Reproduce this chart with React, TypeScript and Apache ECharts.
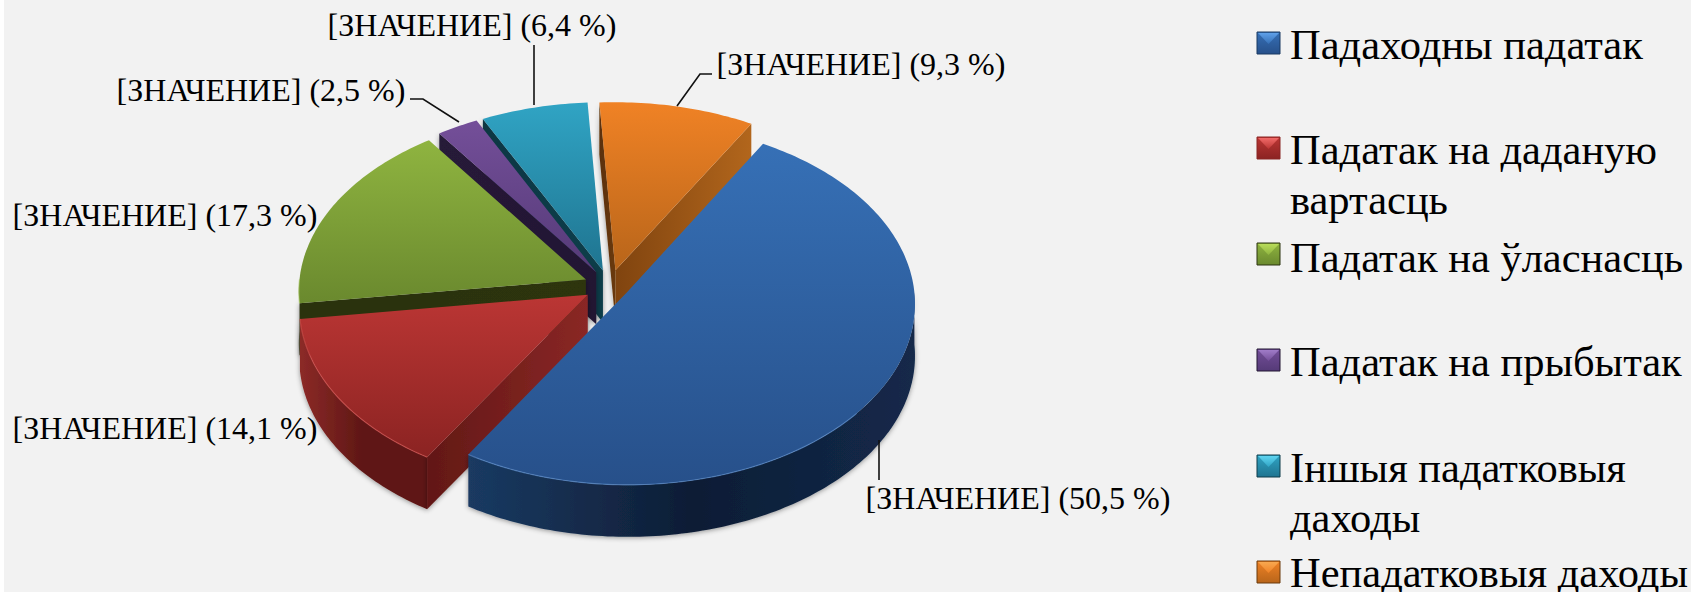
import React, { useEffect, useRef } from "react";
import * as echarts from "echarts";

const categories = ["Падаходны падатак", "Падатак на даданую вартасць", "Падатак на ўласнасць", "Падатак на прыбытак", "Іншыя падатковыя даходы", "Непадатковыя даходы"];
const legendNames = ["Падаходны падатак", "Падатак на даданую\nвартасць", "Падатак на ўласнасць", "Падатак на прыбытак", "Іншыя падатковыя\nдаходы", "Непадатковыя даходы"];
const values = [50.5, 14.1, 17.3, 2.5, 6.4, 9.3];
const percentText = ["50,5", "14,1", "17,3", "2,5", "6,4", "9,3"];

const topColors = [["#3670b6", "#27508a"], ["#bb3634", "#8b2322"], ["#8fb440", "#6a892e"], ["#744f99", "#553a78"], ["#30a4c4", "#1f7490"], ["#f08225", "#b8651a"]];
const wallOuter = [["#1a3a62", "#0e1d35", "#13294a"], ["#8c2a27", "#5e1715", "#5e1715"], ["#3a4a18", "#3a4a18", "#3a4a18"], ["#2a1c3e", "#2a1c3e", "#2a1c3e"], ["#0f3b48", "#0f3b48", "#0f3b48"], ["#a9601b", "#a9601b", "#a9601b"]];
const wallStart = [["#1a3a62", "#1a3a62"], ["#621816", "#8a2725"], ["#2b3210", "#2d3410"], ["#261a38", "#231733"], ["#0e3743", "#0f3d4a"], ["#5a2f08", "#6a3a0c"]];
const wallEnd = [["#1a3a62", "#1a3a62"], ["#5e1715", "#5e1715"], ["#2b3210", "#2b3210"], ["#261a38", "#261a38"], ["#0f3b48", "#0f3b48"], ["#80440f", "#b2661c"]];
const rimColors = ["#5b8fd0", "#d95452", "#a5c85a", "#8a68ae", "#4fbcd8", "#f59a48"];
const iconLight = ["#5fa0e8", "#f06a68", "#b8dc5a", "#a07cc8", "#5fd4f0", "#f8a850"];
const drawOrder = [4, 3, 5, 2, 1, 0];
const explode = [0.07, 0.09, 0.09, 0.09, 0.09, 0.09];

const labelPos = [[1018, 498], [165, 428], [165, 215], [261, 90], [472, 25], [861, 64]];
const leaders: number[][][] = [
  [[879, 440], [879, 480]],
  [],
  [],
  [[410, 99], [423, 99], [459, 122]],
  [[534, 45], [534, 105]],
  [[712, 74], [700, 74], [677, 106]],
];
const legendTop = [19, 124, 232, 336, 442, 551];
const legendLine = [50, 50, 50, 50, 50, 34];
const iconTop = [32, 137, 243, 349, 455, 561];

const CX = 609.5, CY = 286, A = 287, B = 180, P = 0.06, DEPTH = 52, START = 30.1;
const total = values.reduce((a, b) => a + b, 0);

function proj(X: number, Y: number, d: number): number[] {
  const s = 1 / (1 - P * Y);
  return [CX + A * X * s, CY + B * Y * s + DEPTH * d];
}
const rad = (t: number) => (t * Math.PI) / 180;

function sliceGroup(idx: number, value: number) {
  let before = 0;
  for (let i = 0; i < idx; i++) before += values[i];
  const t0 = START + (before / total) * 360;
  const t1 = t0 + (value / total) * 360;
  const tm = (t0 + t1) / 2;
  const ox = explode[idx] * Math.sin(rad(tm));
  const oy = -explode[idx] * Math.cos(rad(tm));
  const pt = (t: number, d: number) => proj(ox + Math.sin(rad(t)), oy - Math.cos(rad(t)), d);
  const tip = (d: number) => proj(ox, oy, d);
  const arc = (a: number, b: number, d: number) => {
    const out: number[][] = [];
    const n = Math.max(2, Math.ceil(Math.abs(b - a)));
    for (let i = 0; i <= n; i++) out.push(pt(a + ((b - a) * i) / n, d));
    return out;
  };
  const grad = (x2: number, y2: number, cols: string[]) => ({
    type: "linear", x: 0, y: 0, x2, y2,
    colorStops: cols.map((c, i) => ({ offset: i / (cols.length - 1), color: c })),
  });
  const children: any[] = [];
  const shadow = { shadowBlur: 5, shadowColor: "rgba(0,0,0,0.4)", shadowOffsetY: 1 };

  const segs: number[][] = [];
  for (const [a, b] of [[90, 270], [450, 630]]) {
    const l = Math.max(t0, a), r = Math.min(t1, b);
    if (r > l) segs.push([l, r]);
  }
  for (const [l, r] of segs) {
    const pts = arc(l, r, 0).concat(arc(l, r, 1).reverse());
    children.push({ type: "polygon", shape: { points: pts }, style: { fill: grad(1, 0, wallOuter[idx]), ...shadow } });
  }
  if (Math.cos(rad(t0 - 90)) < 0) {
    children.push({ type: "polygon", shape: { points: [tip(0), pt(t0, 0), pt(t0, 1), tip(1)] }, style: { fill: grad(1, 0, wallStart[idx]), ...shadow } });
  }
  if (Math.cos(rad(t1 + 90)) < 0) {
    children.push({ type: "polygon", shape: { points: [tip(0), pt(t1, 0), pt(t1, 1), tip(1)] }, style: { fill: grad(1, 0, wallEnd[idx]) } });
  }
  const top = [tip(0)].concat(arc(t0, t1, 0));
  children.push({ type: "polygon", shape: { points: top }, style: { fill: grad(0, 1, topColors[idx]) } });
  for (const [l, r] of segs) {
    children.push({ type: "polyline", shape: { points: arc(Math.max(l, 130), r, 0) }, style: { fill: "none", stroke: rimColors[idx], lineWidth: 1.2, opacity: 0.6 } });
  }
  if (leaders[idx].length) {
    children.push({ type: "polyline", shape: { points: leaders[idx] }, style: { fill: "none", stroke: "#111", lineWidth: 1.6 } });
  }
  children.push({
    type: "text",
    style: {
      x: labelPos[idx][0], y: labelPos[idx][1],
      text: `[ЗНАЧЕНИЕ] (${percentText[idx]} %)`,
      fill: "#000", font: "32px 'Liberation Serif'", align: "center", verticalAlign: "middle",
    },
  });
  return { type: "group", children };
}

export default function App() {
  const ref = useRef<HTMLDivElement>(null);
  useEffect(() => {
    document.body.style.margin = "0";
    const chart = echarts.init(ref.current!, undefined, { renderer: "svg" });
    const iconGraphics: any[] = [];
    iconTop.forEach((t, i) => {
      const x = 1257, w = 23, h = 22;
      const [c0, c1] = topColors[i];
      iconGraphics.push({ type: "rect", silent: true, shape: { x, y: t, width: w, height: h }, style: { fill: { type: "linear", x: 0, y: 0, x2: 0, y2: 1, colorStops: [{ offset: 0, color: c0 }, { offset: 1, color: c1 }] }, stroke: wallStart[i][1], lineWidth: 1 } });
      iconGraphics.push({ type: "polygon", silent: true, shape: { points: [[x + 1, t + 1], [x + w - 1, t + 1], [x + w / 2, t + 12]] }, style: { fill: { type: "linear", x: 0, y: 0, x2: 0, y2: 1, colorStops: [{ offset: 0, color: iconLight[i] }, { offset: 1, color: c0 }] } } });
    });
    chart.setOption({
      animation: false,
      backgroundColor: "#f2f2f2",
      graphic: [
        { type: "rect", silent: true, shape: { x: 0, y: 0, width: 4, height: 592 }, style: { fill: "#ffffff" } },
        ...iconGraphics,
      ],
      legend: categories.map((c, i) => ({
        left: 1284, top: legendTop[i], padding: 0, orient: "vertical", itemWidth: 1, itemHeight: 1, selectedMode: false,
        data: [{ name: c, icon: "rect", itemStyle: { opacity: 0 } }],
        formatter: () => legendNames[i],
        textStyle: { fontFamily: "Liberation Serif", fontSize: 42.5, lineHeight: legendLine[i], color: "#000" },
      })),
      series: drawOrder.map((idx, order) => ({
        type: "custom",
        name: categories[idx],
        coordinateSystem: "none",
        z: 2 + order,
        silent: true,
        data: [[values[idx]]],
        renderItem: (_p: any, api: any) => sliceGroup(idx, api.value(0)),
      })),
    });
    return () => chart.dispose();
  }, []);
  return <div ref={ref} style={{ width: 1691, height: 592 }} />;
}
